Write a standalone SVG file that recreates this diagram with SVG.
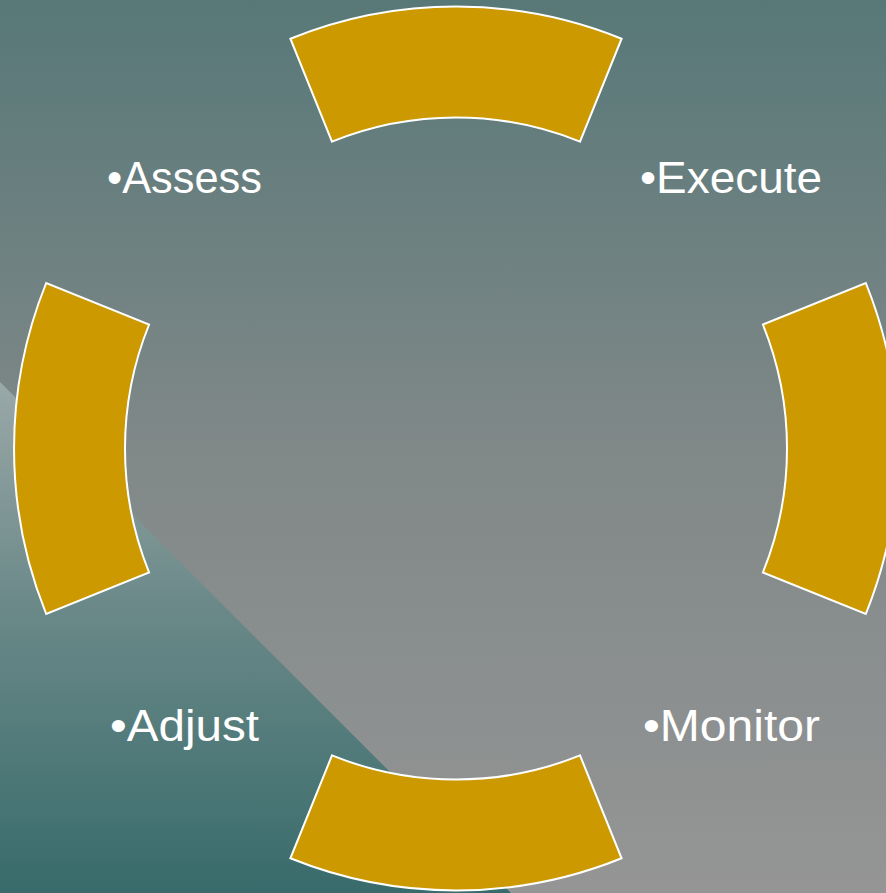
<svg xmlns="http://www.w3.org/2000/svg" width="886" height="893" viewBox="0 0 886 893">
  <defs>
    <linearGradient id="bg" x1="0" y1="0" x2="0" y2="1">
      <stop offset="0" stop-color="#587878"/>
      <stop offset="0.5" stop-color="#808888"/>
      <stop offset="1" stop-color="#959595"/>
    </linearGradient>
    <linearGradient id="tri" gradientUnits="userSpaceOnUse" x1="0" y1="382" x2="0" y2="893">
      <stop offset="0" stop-color="#9aa8a8"/>
      <stop offset="0.45" stop-color="#6a8888"/>
      <stop offset="1" stop-color="#386b6b"/>
    </linearGradient>
    <style>
      .seg { fill: #cc9900; stroke: #ffffff; stroke-width: 2; stroke-linejoin: miter; }
      .lbl { font-family: "Liberation Sans", Arial, sans-serif; font-size: 44px; fill: #ffffff; }
    </style>
  </defs>
  <rect x="0" y="0" width="886" height="893" fill="url(#bg)"/>
  <polygon points="0,382 511,893 0,893" fill="url(#tri)"/>

  <g id="seg-top">
    <path class="seg" d="M290.4,38.7 A442,442 0 0 1 621.6,38.7 L580,141.6 A331,331 0 0 0 332,141.6 Z"/>
  </g>
  <g id="seg-right">
    <path class="seg" d="M865.8,283 A442,442 0 0 1 865.8,614 L762.9,572.5 A331,331 0 0 0 762.9,324.5 Z"/>
  </g>
  <g id="seg-bottom">
    <path class="seg" d="M621.6,858.3 A442,442 0 0 1 290.4,858.3 L332,755.4 A331,331 0 0 0 580,755.4 Z"/>
  </g>
  <g id="seg-left">
    <path class="seg" d="M46.2,614 A442,442 0 0 1 46.2,283 L149.1,324.5 A331,331 0 0 0 149.1,572.5 Z"/>
  </g>

  <g id="label-assess">
    <text class="lbl" x="107" y="193" textLength="155" lengthAdjust="spacingAndGlyphs">•Assess</text>
  </g>
  <g id="label-execute">
    <text class="lbl" x="640" y="193" textLength="182" lengthAdjust="spacingAndGlyphs">•Execute</text>
  </g>
  <g id="label-adjust">
    <text class="lbl" x="110" y="741" textLength="149" lengthAdjust="spacingAndGlyphs">•Adjust</text>
  </g>
  <g id="label-monitor">
    <text class="lbl" x="643" y="741" textLength="177" lengthAdjust="spacingAndGlyphs">•Monitor</text>
  </g>
  <g id="connectors"></g>
</svg>
